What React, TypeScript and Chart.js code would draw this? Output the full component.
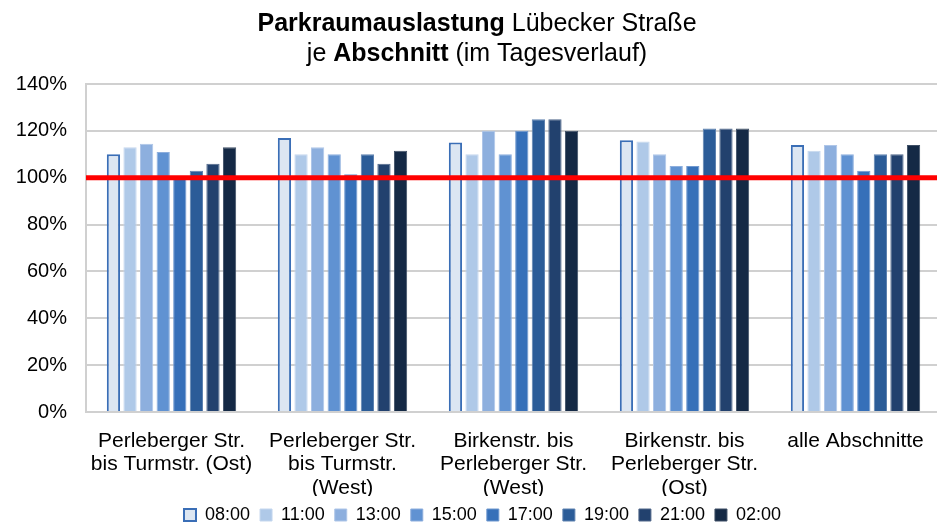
import React, { useEffect, useRef } from "react";
import { Chart, registerables } from "chart.js";

Chart.register(...registerables);

const categories: (string | string[])[] = [
  ["Perleberger Str.", "bis Turmstr. (Ost)"],
  ["Perleberger Str.", "bis Turmstr.", "(West)"],
  ["Birkenstr. bis", "Perleberger Str.", "(West)"],
  ["Birkenstr. bis", "Perleberger Str.", "(Ost)"],
  "alle Abschnitte",
];

const seriesLabels = ["08:00", "11:00", "13:00", "15:00", "17:00", "19:00", "21:00", "02:00"];

const values0800 = [110, 117, 115, 116, 114];
const values1100 = [113, 110, 110, 115.5, 111.5];
const values1300 = [114.5, 113, 120, 110, 114];
const values1500 = [111, 110, 110, 105, 110];
const values1700 = [100, 101.5, 120, 105, 103];
const values1900 = [103, 110, 125, 121, 110];
const values2100 = [106, 106, 125, 121, 110];
const values0200 = [113, 111.5, 120, 121, 114];

const seriesValues = [values0800, values1100, values1300, values1500, values1700, values1900, values2100, values0200];

const fillColors = ["#DCE6F2", "#AFC9E8", "#8DAFDE", "#6092D2", "#3670B9", "#2B5C98", "#22416E", "#142945"];
const borderColors = ["#3A6EB6", "#C5D7EE", "#AFC6E8", "#8DAEDD", "#6F98CF", "#5F82B0", "#51688A", "#3F4F66"];

const yTicks = [0, 20, 40, 60, 80, 100, 120, 140];
const threshold = 100;

const FONT = "'Liberation Sans', Arial, sans-serif";

const thresholdPlugin = {
  id: "thresholdLine",
  afterDatasetsDraw(chart: any) {
    const { ctx, chartArea, scales } = chart;
    const y = scales.y.getPixelForValue(threshold);
    ctx.save();
    ctx.strokeStyle = "#FF0000";
    ctx.lineWidth = 5;
    ctx.beginPath();
    ctx.moveTo(chartArea.left, y);
    ctx.lineTo(chartArea.right, y);
    ctx.stroke();
    ctx.restore();
  },
};

const legendShiftPlugin = {
  id: "legendShift",
  afterLayout(chart: any) {
    if (chart.legend) {
      chart.legend.left += 12;
      chart.legend.right += 12;
    }
  },
};

const titlePlugin = {
  id: "mixedTitle",
  afterDraw(chart: any) {
    const ctx = chart.ctx;
    const cx = 477;
    const bold = `bold 25px ${FONT}`;
    const normal = `25px ${FONT}`;
    const lines: [string, string][][] = [
      [["Parkraumauslastung", bold], [" Lübecker Straße", normal]],
      [["je ", normal], ["Abschnitt", bold], [" (im Tagesverlauf)", normal]],
    ];
    const baselines = [30.5, 60.5];
    ctx.save();
    ctx.fillStyle = "#000";
    ctx.textBaseline = "alphabetic";
    ctx.textAlign = "left";
    lines.forEach((parts, i) => {
      let total = 0;
      parts.forEach(([t, f]) => {
        ctx.font = f;
        total += ctx.measureText(t).width;
      });
      let x = cx - total / 2;
      parts.forEach(([t, f]) => {
        ctx.font = f;
        ctx.fillText(t, x, baselines[i]);
        x += ctx.measureText(t).width;
      });
    });
    ctx.restore();
  },
};

export default function App() {
  const ref = useRef<HTMLCanvasElement>(null);

  useEffect(() => {
    document.body.style.margin = "0";
    const canvas = ref.current!;
    const chart = new Chart(canvas, {
      type: "bar",
      data: {
        labels: categories,
        datasets: seriesLabels.map((label, i) => ({
          label,
          data: seriesValues[i],
          backgroundColor: fillColors[i],
          borderColor: borderColors[i],
          borderWidth: i === 0 ? 2 : 1,
          categoryPercentage: 0.776,
          barPercentage: 0.8,
        })),
      },
      options: {
        animation: false,
        responsive: false,
        devicePixelRatio: 1,
        layout: { padding: { top: 84, right: 0, left: 0, bottom: 0 } },
        plugins: {
          title: { display: false },
          tooltip: { enabled: false },
          legend: {
            position: "bottom",
            labels: {
              font: { family: FONT, size: 18 },
              color: "#000",
              boxWidth: 12,
              boxHeight: 12,
              padding: 10,
            },
          },
        },
        scales: {
          x: {
            grid: { display: false },
            border: { display: true, color: "#D0D0D0", width: 2 },
            ticks: {
              font: { family: FONT, size: 21, lineHeight: 1.1 },
              color: "#000",
              maxRotation: 0,
              autoSkip: false,
              padding: 10,
            },
            afterFit(scale: any) {
              scale.height = 84;
            },
          },
          y: {
            min: 0,
            max: 140,
            afterBuildTicks(scale: any) {
              scale.ticks = yTicks.map((v) => ({ value: v }));
            },
            grid: { color: "#D0D0D0", lineWidth: 2, drawTicks: false },
            border: { display: true, color: "#D0D0D0", width: 2 },
            ticks: {
              font: { family: FONT, size: 20 },
              color: "#000",
              padding: 19,
              callback: (v: any) => `${v}%`,
            },
            afterFit(scale: any) {
              scale.width = 86;
            },
          },
        },
      },
      plugins: [thresholdPlugin, legendShiftPlugin, titlePlugin],
    });
    return () => chart.destroy();
  }, []);

  return (
    <div style={{ position: "fixed", left: 0, top: 0, width: 937, height: 527, overflow: "hidden", background: "#fff" }}>
      <canvas ref={ref} width={941} height={534} style={{ width: 941, height: 534, display: "block" }} />
    </div>
  );
}
